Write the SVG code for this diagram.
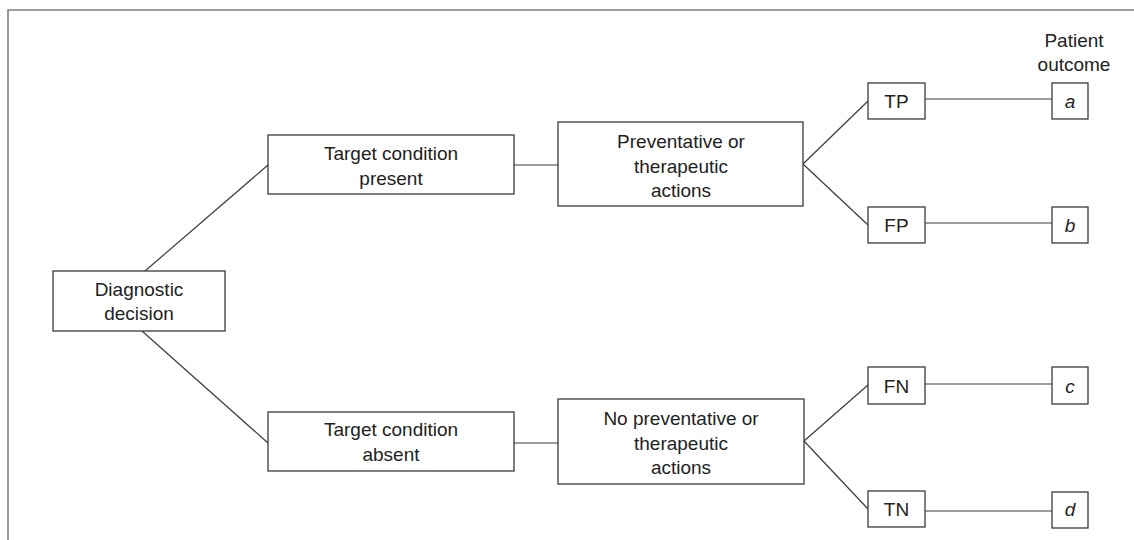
<svg xmlns="http://www.w3.org/2000/svg" width="1134" height="540" viewBox="0 0 1134 540">
<style>
.box{fill:#fff;stroke:#3a3a3a;stroke-width:1.3}
.ln{fill:none;stroke:#3a3a3a;stroke-width:1.2}
.frame{fill:none;stroke:#808080;stroke-width:1.6}
text{font-family:"Liberation Sans",Arial,sans-serif;font-size:19px;fill:#222;text-anchor:middle}
.it{font-style:italic}
</style>
<rect width="1134" height="540" fill="#fff"/>
<path class="frame" d="M8,540 V10 H1134"/>
<g id="connectors">
<line class="ln" x1="145" y1="271" x2="268" y2="165"/>
<line class="ln" x1="142" y1="331" x2="268" y2="443"/>
<line class="ln" x1="514" y1="165" x2="558" y2="165"/>
<line class="ln" x1="514" y1="443" x2="558" y2="443"/>
<line class="ln" x1="803" y1="164" x2="868" y2="101"/>
<line class="ln" x1="803" y1="164" x2="868" y2="225"/>
<line class="ln" x1="804" y1="441" x2="868" y2="385"/>
<line class="ln" x1="804" y1="441" x2="868" y2="509"/>
<line class="ln" x1="925" y1="99" x2="1052" y2="99"/>
<line class="ln" x1="925" y1="223" x2="1052" y2="223"/>
<line class="ln" x1="925" y1="384" x2="1052" y2="384"/>
<line class="ln" x1="925" y1="511" x2="1052" y2="511"/>
</g>
<g id="diagnostic">
<rect class="box" x="53" y="271" width="172" height="60"/>
<text x="139" y="296">Diagnostic</text>
<text x="139" y="320">decision</text>
</g>
<g id="present">
<rect class="box" x="268" y="135" width="246" height="59"/>
<text x="391" y="160">Target condition</text>
<text x="391" y="185">present</text>
</g>
<g id="absent">
<rect class="box" x="268" y="412" width="246" height="59"/>
<text x="391" y="436">Target condition</text>
<text x="391" y="461">absent</text>
</g>
<g id="actions">
<rect class="box" x="558" y="122" width="245" height="84"/>
<text x="681" y="148">Preventative or</text>
<text x="681" y="173">therapeutic</text>
<text x="681" y="197">actions</text>
</g>
<g id="noactions">
<rect class="box" x="558" y="399" width="246" height="85"/>
<text x="681" y="425">No preventative or</text>
<text x="681" y="450">therapeutic</text>
<text x="681" y="474">actions</text>
</g>
<g id="tp"><rect class="box" x="868" y="83" width="57" height="36"/><text x="896.5" y="108">TP</text></g>
<g id="fp"><rect class="box" x="868" y="207" width="57" height="36"/><text x="896.5" y="232">FP</text></g>
<g id="fn"><rect class="box" x="868" y="367" width="57" height="37"/><text x="896.5" y="393">FN</text></g>
<g id="tn"><rect class="box" x="868" y="491" width="57" height="36"/><text x="896.5" y="516">TN</text></g>
<g id="a"><rect class="box" x="1052" y="83" width="36" height="36"/><text class="it" x="1070" y="108">a</text></g>
<g id="b"><rect class="box" x="1052" y="207" width="36" height="36"/><text class="it" x="1070" y="232">b</text></g>
<g id="c"><rect class="box" x="1052" y="367" width="36" height="37"/><text class="it" x="1070" y="393">c</text></g>
<g id="d"><rect class="box" x="1052" y="492" width="36" height="36"/><text class="it" x="1070" y="516">d</text></g>
<g id="outcome-label">
<text x="1074" y="47">Patient</text>
<text x="1074" y="71">outcome</text>
</g>
</svg>
